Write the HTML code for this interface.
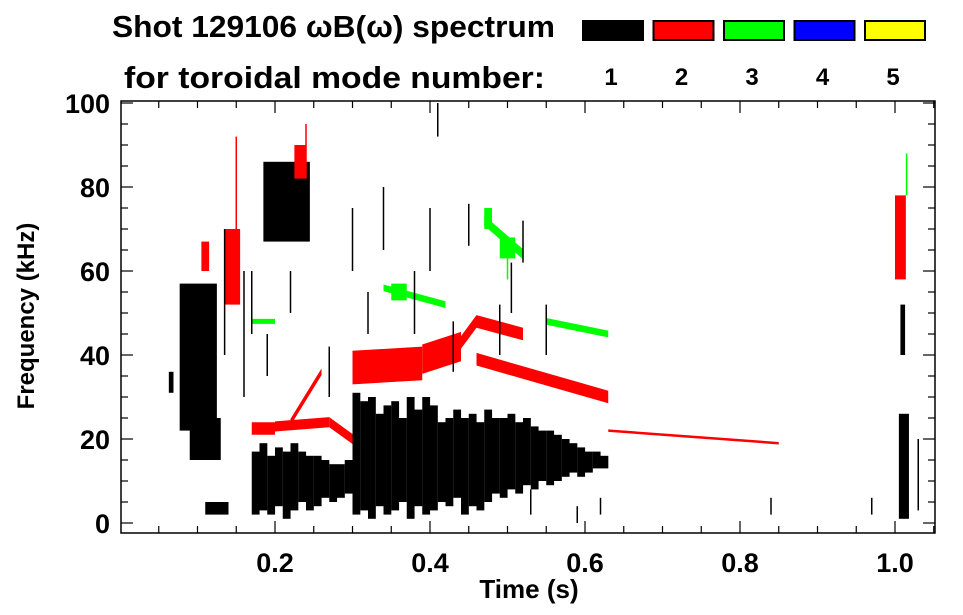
<!DOCTYPE html>
<html><head><meta charset="utf-8"><style>
body{margin:0;background:#fff;}
svg{display:block;font-family:"Liberation Sans",sans-serif;font-weight:bold;}
</style></head><body>
<svg id="chart" width="963" height="615" viewBox="0 0 963 615">
<text x="112" y="37" font-size="31" textLength="443" lengthAdjust="spacingAndGlyphs">Shot 129106 ωB(ω) spectrum</text>
<text x="124" y="88" font-size="31" textLength="421" lengthAdjust="spacingAndGlyphs">for toroidal mode number:</text>
<g id="legend"></g>
<g id="marks"></g>
<g id="axes"></g>
<text x="529" y="598" font-size="26" text-anchor="middle">Time (s)</text>
<text transform="translate(34,316) rotate(-90)" font-size="24" text-anchor="middle">Frequency (kHz)</text>
</svg>
<script>
const modeLabels=["1","2","3","4","5"];
const modeColors=["#000","#f00","#0f0","#00f","#ff0"];
const xTicks=[0.2,0.4,0.6,0.8,1.0];
const xTickLabels=["0.2","0.4","0.6","0.8","1.0"];
const yTicks=[0,20,40,60,80,100];
// dense n=1 region envelope
const blackT=[0.17,0.18,0.19,0.20,0.21,0.22,0.23,0.24,0.25,0.26,0.27,0.28,0.29,0.30,0.31,0.32,0.33,0.34,0.35,0.36,0.37,0.38,0.39,0.40,0.41,0.42,0.43,0.44,0.45,0.46,0.47,0.48,0.49,0.50,0.51,0.52,0.53,0.54,0.55,0.56,0.57,0.58,0.59,0.60,0.61,0.62];
const blackLo=[2,3,2,4,1,3,5,3,4,6,5,6,7,2,3,1,4,2,3,5,1,4,2,3,5,4,6,2,4,3,5,7,6,8,7,9,8,10,9,10,11,12,11,12,13,13];
const blackHi=[17,19,16,18,17,19,17,16,16,15,14,14,15,31,29,30,26,28,29,25,30,27,30,28,24,25,27,25,26,24,27,25,25,26,24,25,23,22,22,21,20,19,18,17,17,16];
// blobs: t0,t1,f0,f1,mode
const blobT0=[0.077,0.09,0.063,0.185,0.11,1.005,1.007,0.135,0.105,1.0,0.225,0.35,0.49,0.47];
const blobT1=[0.125,0.13,0.069,0.245,0.14,1.018,1.013,0.155,0.115,1.014,0.24,0.37,0.51,0.48];
const blobF0=[22,15,31,67,2,1,40,52,60,58,82,53,63,70];
const blobF1=[57,25,36,86,5,26,52,70,67,78,90,57,68,75];
const blobMode=[0,0,0,0,0,0,0,1,1,1,1,2,2,2];
// ribbons: t0,t1,f0,f1,halfwidth,mode
const ribT0=[0.17,0.20,0.27,0.22,0.30,0.39,0.44,0.46,0.46,0.63,0.34,0.47,0.55,0.17];
const ribT1=[0.20,0.27,0.30,0.26,0.39,0.44,0.46,0.52,0.63,0.85,0.42,0.52,0.63,0.20];
const ribF0=[22.5,23,24,24,37,39,43,48,39,22,56,72,48,48];
const ribF1=[22.5,24,20,36,38,42,48,45,30,19,52,64,45,48];
const ribW=[1.5,1.2,1.2,0.8,4,3.5,1.5,1.5,1.5,0.3,0.8,1.2,0.8,0.6];
const ribMode=[1,1,1,1,1,1,1,1,1,1,2,2,2,2];
// sparse vertical streaks (t, f0, f1, mode)
const strT=[0.135,0.16,0.17,0.19,0.22,0.27,0.30,0.32,0.34,0.38,0.40,0.41,0.43,0.45,0.49,0.505,0.52,0.53,0.55,0.59,0.62,0.84,0.97,1.03,0.15,0.24,0.50,1.015];
const strF0=[40,30,45,35,50,30,60,45,65,45,60,92,36,66,40,50,62,2,40,0,2,2,2,3,62,82,58,78];
const strF1=[70,60,60,45,60,42,75,55,80,60,75,100,48,76,52,62,72,8,52,4,6,6,6,20,92,95,66,88];
const strMode=[0,0,0,0,0,0,0,0,0,0,0,0,0,0,0,0,0,0,0,0,0,0,0,0,1,1,2,2];

const NS="http://www.w3.org/2000/svg";
const L=121,R=935,T=101,B=533;
const X=t=>120+t*775;
const Y=f=>523-f*4.2;
function mk(tag,at,parent){const e=document.createElementNS(NS,tag);for(const k in at)e.setAttribute(k,at[k]);parent.appendChild(e);return e;}
const lg=document.getElementById('legend'),mg=document.getElementById('marks'),ag=document.getElementById('axes');
modeLabels.forEach((m,i)=>{
  const x=582+i*70.5;
  const r=mk('rect',{x:x+1,y:21,width:60,height:19,fill:modeColors[i],stroke:'#000','stroke-width':2},lg);
  
  
  const tx=mk('text',{x:x+29,y:85,'font-size':24,'text-anchor':'middle'},lg);tx.textContent=m;
  
  
});
blackT.forEach((t,i)=>{
  const r=mk('rect',{x:X(t),y:Y(blackHi[i]),width:0.0101*775,height:(blackHi[i]-blackLo[i])*4.2,fill:'#000'},mg);
  
  
});
blobT0.forEach((t0,i)=>{
  const r=mk('rect',{x:X(t0),y:Y(blobF1[i]),width:(blobT1[i]-t0)*775,height:(blobF1[i]-blobF0[i])*4.2,fill:modeColors[blobMode[i]]},mg);
  
  
});
ribT0.forEach((t0,i)=>{
  const t1=ribT1[i],f0=ribF0[i],f1=ribF1[i],w=Math.max(ribW[i],0.3);
  const p=[[X(t0),Y(f0+w)],[X(t1),Y(f1+w)],[X(t1),Y(f1-w)],[X(t0),Y(f0-w)]].map(a=>a.join(',')).join(' ');
  const e=mk('polygon',{points:p,fill:modeColors[ribMode[i]]},mg);
  
  
});
strT.forEach((t,i)=>{
  const e=mk('line',{x1:X(t),x2:X(t),y1:Y(strF0[i]),y2:Y(strF1[i]),stroke:modeColors[strMode[i]],'stroke-width':1.5},mg);
  
  
});
const fr=mk('rect',{x:L,y:T,width:R-L,height:B-T,fill:'none',stroke:'#000','stroke-width':1.5},ag);


for(let k=1;k<=21;k++){
  const t=k*0.05,major=k%4===0,len=major?12:7;
  mk('line',{x1:X(t),x2:X(t),y1:B,y2:B-len,stroke:'#000','stroke-width':1.2},ag);
  mk('line',{x1:X(t),x2:X(t),y1:T,y2:T+len,stroke:'#000','stroke-width':1.2},ag);
}
for(let f=0;f<=100;f+=5){
  const major=f%20===0,len=major?12:7;
  mk('line',{x1:L,x2:L+len,y1:Y(f),y2:Y(f),stroke:'#000','stroke-width':1.2},ag);
  mk('line',{x1:R,x2:R-len,y1:Y(f),y2:Y(f),stroke:'#000','stroke-width':1.2},ag);
}
xTicks.forEach((t,i)=>{
  const tx=mk('text',{x:X(t),y:572,'font-size':27,'text-anchor':'middle'},ag);tx.textContent=xTickLabels[i];
  
  
});
yTicks.forEach(f=>{
  const tx=mk('text',{x:110,y:Y(f)+10,'font-size':27,'text-anchor':'end'},ag);tx.textContent=String(f);
  
  
});
</script>
</body></html>
